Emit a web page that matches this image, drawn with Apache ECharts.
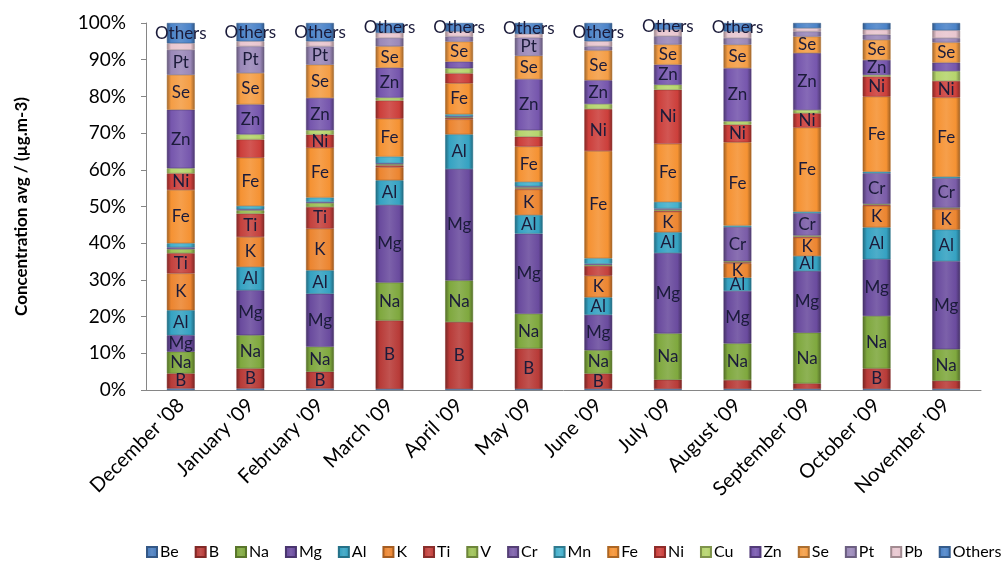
<!DOCTYPE html>
<html>
<head>
<meta charset="utf-8">
<script src="https://cdn.jsdelivr.net/npm/echarts@6.0.0/dist/echarts.min.js"></script>
<style>
  html, body { margin: 0; padding: 0; background: #fff; }
  #main { width: 1006px; height: 563px; }
</style>
</head>
<body>
<div id="main"></div>
<script type="text/javascript">
    // mois (catégories)
    var categories = ["December '08", "January '09", "February '09", "March '09", "April '09", "May '09",
        "June '09", "July '09", "August '09", "September '09", "October '09", "November '09"];
    var elements = ['Be', 'B', 'Na', 'Mg', 'Al', 'K', 'Ti', 'V', 'Cr', 'Mn', 'Fe', 'Ni', 'Cu', 'Zn', 'Se', 'Pt', 'Pb', 'Others'];
    var yTicks = ['0%', '10%', '20%', '30%', '40%', '50%', '60%', '70%', '80%', '90%', '100%'];

    // valeurs (part en %)
    var be     = [0.4, 0.4, 0.4, 0.3, 0.3, 0.3, 0.3, 0.3, 0.3, 0.3, 0.3, 0.3];
    var b      = [4.1, 5.5, 4.6, 18.8, 18.3, 11.1, 4.2, 2.5, 2.4, 1.5, 5.6, 2.2];
    var na     = [5.9, 9.1, 6.8, 10.4, 11.4, 9.5, 6.4, 12.7, 10, 13.8, 14.3, 8.6];
    var mg     = [4.5, 12.3, 14.5, 21.3, 30.5, 22, 9.7, 22, 14.3, 16.8, 15.5, 24];
    var al     = [6.8, 6.4, 6.4, 6.8, 9.5, 5.1, 4.8, 5.7, 3.6, 4.1, 8.7, 8.6];
    var k      = [10, 8.2, 11.4, 3.6, 4.1, 7, 5.9, 5.6, 3.9, 5, 5.9, 5.5];
    var ti     = [5.5, 6.4, 5.9, 0.5, 0.4, 0.3, 2.7, 0.3, 0.3, 0.3, 0.3, 0.3];
    var v      = [1.1, 0.9, 1.1, 0.3, 0.2, 0.3, 0.3, 0.3, 0.3, 0.3, 0.2, 0.2];
    var cr     = [0.5, 0.3, 0.3, 0.3, 0.3, 0.3, 0.3, 0.3, 9.3, 6.1, 8.4, 8];
    var mn     = [1.1, 0.9, 1.2, 1.8, 0.5, 1.2, 1.5, 1.8, 0.4, 0.4, 0.4, 0.4];
    var fe     = [14.5, 13.2, 13.6, 10.4, 8.5, 9.7, 29.4, 15.9, 22.7, 22.9, 20.5, 21.6];
    var ni     = [4.5, 5, 3.6, 5, 2.7, 2.7, 11.5, 14.8, 4.8, 3.9, 5.5, 4.5];
    var cu     = [1.4, 1.4, 1.2, 0.8, 1.4, 1.8, 1.4, 1.4, 0.9, 0.9, 0.4, 2.7];
    var zn     = [15.9, 8.2, 8.8, 8.2, 1.8, 14, 6.5, 5.5, 14.5, 15.5, 4.1, 2.3];
    var se     = [9.5, 8.6, 9.1, 5.9, 5.5, 6.4, 8.2, 5.5, 6.4, 4.5, 5.5, 5.5];
    var pt     = [6.8, 7.3, 5, 2.3, 1.4, 5, 1.1, 2.3, 1.8, 1.4, 1.4, 1.2];
    var pb     = [1.8, 1.4, 1.4, 1.4, 1.4, 1, 1.4, 1.8, 1.8, 0.9, 1.4, 2.1];
    var others = [5.5, 5, 5, 2.7, 2.3, 3, 5, 1.8, 2.3, 1.4, 1.8, 2];
    var allValues = [be, b, na, mg, al, k, ti, v, cr, mn, fe, ni, cu, zn, se, pt, pb, others];

    // étiquettes masquées à la main dans l'original
    var hiddenLabels = ['Ni:1', 'Ni:3', 'K:3', 'K:4'];
    var othersLabelled = 9; // "Others" affiché sur les 9 premiers mois

    var colors = ['#4a7ebf', '#b83b38', '#7fa83e', '#6a4b9e', '#35a2c2', '#ec8530',
        '#c4413d', '#9cc054', '#7a5ca8', '#44b0cc', '#f59233', '#cc3f3b',
        '#b5d46c', '#7656ad', '#f49d45', '#9a88b8', '#e8c6cf', '#4b83c8'];

    function shade(hex, f) {
        var n = parseInt(hex.slice(1), 16);
        var r = (n >> 16) & 255, g = (n >> 8) & 255, bl = n & 255;
        function c(x) { return Math.max(0, Math.min(255, Math.round(f < 0 ? x * (1 + f) : x + (255 - x) * f))); }
        return 'rgb(' + c(r) + ',' + c(g) + ',' + c(bl) + ')';
    }

    // totaux par mois -> barres empilées à 100 %
    var totals = categories.map(function (c, i) {
        return allValues.reduce(function (s, arr) { return s + arr[i]; }, 0);
    });

    var series = elements.map(function (name, si) {
        var col = colors[si];
        return {
            name: name,
            type: 'bar',
            stack: 'total',
            barWidth: '40%',
            itemStyle: {
                color: new echarts.graphic.LinearGradient(0, 0, 1, 0, [
                    { offset: 0, color: shade(col, -0.35) },
                    { offset: 0.15, color: col },
                    { offset: 0.5, color: shade(col, 0.12) },
                    { offset: 0.85, color: col },
                    { offset: 1, color: shade(col, -0.35) }
                ]),
                borderColor: shade(col, -0.3),
                borderWidth: 0.5
            },
            label: {
                position: 'inside',
                fontFamily: 'Lato',
                fontSize: 17,
                color: '#1b1b3a',
                formatter: name
            },
            data: allValues[si].map(function (val, i) {
                var pct = val / totals[i] * 100;
                var show = pct >= 3.5 && hiddenLabels.indexOf(name + ':' + i) < 0;
                if (name === 'Others') show = i < othersLabelled;
                return { value: pct, label: { show: show } };
            })
        };
    });

    var myChart = echarts.init(document.getElementById('main'));
    var option = {
        animation: false,
        color: colors,
        textStyle: { fontFamily: 'Lato' },
        legend: {
            data: elements,
            bottom: 3,
            left: 146,
            width: 880,
            padding: 0,
            itemWidth: 10,
            itemHeight: 10,
            itemGap: 16,
            icon: 'rect',
            textStyle: { fontFamily: 'Lato', fontSize: 16, color: '#000', padding: [0, 0, 0, -2] }
        },
        grid: { left: 146, right: 25, top: 23, bottom: 173 },
        xAxis: {
            type: 'category',
            data: categories,
            axisLine: { lineStyle: { color: '#868686' } },
            axisTick: { alignWithLabel: false, length: 5, lineStyle: { color: '#868686' } },
            axisLabel: { rotate: 45, fontFamily: 'Lato', fontSize: 20, color: '#000', margin: 12 }
        },
        yAxis: {
            type: 'value',
            min: 0,
            max: 100,
            interval: 10,
            name: 'Concentration avg / (µg.m-3)',
            nameLocation: 'middle',
            nameGap: 116,
            nameTextStyle: { fontFamily: 'Lato', fontWeight: 'bold', fontSize: 17, color: '#000' },
            axisLine: { show: true, lineStyle: { color: '#868686' } },
            axisTick: { show: true, length: 5, lineStyle: { color: '#868686' } },
            splitLine: { show: false },
            axisLabel: {
                fontFamily: 'Lato', fontSize: 19, color: '#000', margin: 20,
                formatter: function (val) { return yTicks[Math.round(val / 10)]; }
            }
        },
        series: series
    };
    myChart.setOption(option);
</script>
</body>
</html>
